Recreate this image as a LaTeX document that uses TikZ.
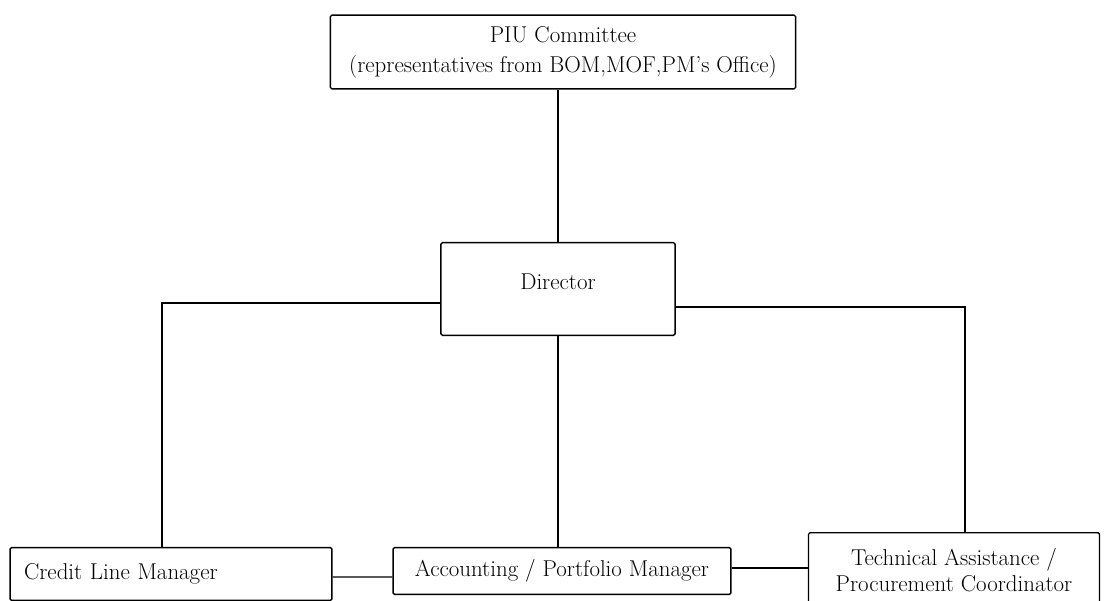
\documentclass[tikz,border=0pt]{standalone}
\usepackage{tikz}

\tikzset{
  unitbox/.style={draw, line width=1.4pt, rounded corners=1.5pt, inner sep=0pt, align=center, font=\fontsize{23}{30}\selectfont}
}

\begin{document}
\begin{tikzpicture}[x=1bp, y=-1bp]
\useasboundingbox (0,0) rectangle (1114,601);
\node[unitbox, minimum width=467, minimum height=74] (piu) at (563,52) {PIU Committee\\(representatives from BOM,MOF,PM's Office)};
\node[unitbox, minimum width=235, minimum height=93] (dir) at (558,289) {Director\\[-16pt]};
\node[unitbox, minimum width=323, minimum height=53, text width=295, align=left] (credit) at (171,574) {Credit Line Manager};
\node[unitbox, minimum width=339, minimum height=47] (acct) at (562,571) {Accounting / Portfolio Manager};
\node[unitbox, minimum width=292, anchor=north, font=\fontsize{23}{26}\selectfont] (tech) at (954,532) {\rule{0pt}{33pt}Technical Assistance /\\Procurement Coordinator\\[22pt]};
\draw[line width=1.4pt] (piu.south -| dir.north) -- (dir.north);
\draw[line width=1.4pt] ([yshift=-14]dir.west) -| ([xshift=-9]credit.north);
\draw[line width=1.4pt] ([yshift=-18]dir.east) -| ([xshift=11]tech.north);
\draw[line width=1.4pt] (dir.south) -- (dir.south |- acct.north);
\draw[line width=1.4pt] ([yshift=-3]credit.east) -- ([yshift=-6]acct.west);
\draw[line width=1.4pt] ([yshift=3]acct.east) -- ([yshift=3]acct.east -| tech.west);
\end{tikzpicture}
\end{document}
